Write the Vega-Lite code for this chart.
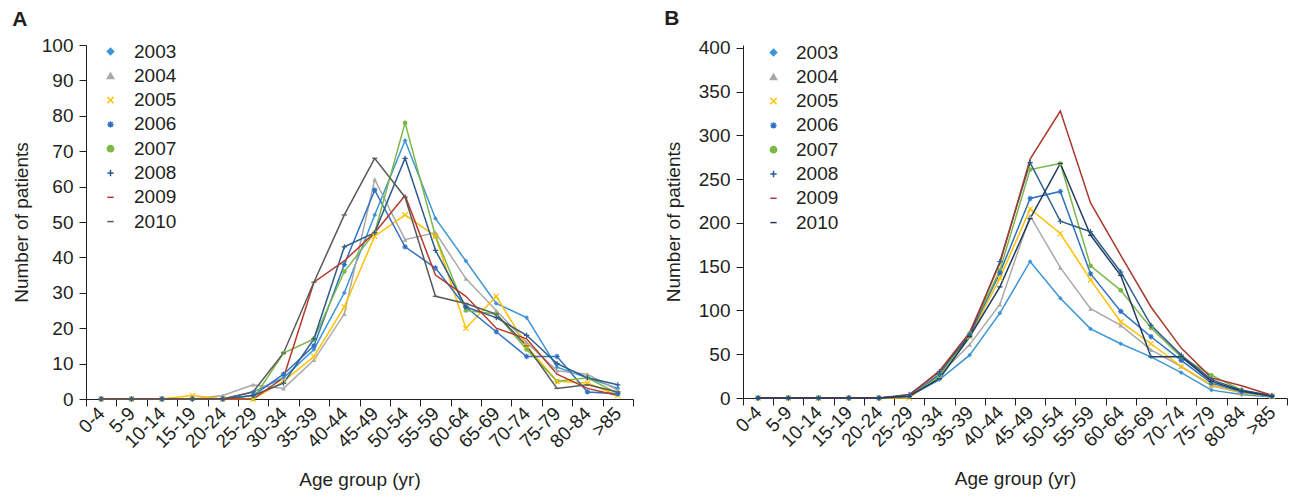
{
"$schema":"https://vega.github.io/schema/vega-lite/v6.json",
"padding":{"left":12,"top":8,"right":0,"bottom":0},
"config":{"view":{"stroke":null},"font":"Liberation Sans",
"axis":{"labelFont":"Liberation Sans","titleFont":"Liberation Sans","labelFontSize":19,"titleFontSize":19,"titleFontWeight":"normal","labelColor":"#231f20","titleColor":"#231f20","domainColor":"#231f20","tickColor":"#231f20","grid":false,"tickSize":7},
"title":{"font":"Liberation Sans","fontSize":21,"fontWeight":"bold","color":"#231f20","anchor":"start","frame":"bounds"},
"legend":{"labelFont":"Liberation Sans","labelFontSize":19,"labelColor":"#231f20","symbolStrokeWidth":1.5}},
"data":{"values":[
{"p":"A","yr":"2003","age":"0-4","n":0},{"p":"A","yr":"2003","age":"5-9","n":0},{"p":"A","yr":"2003","age":"10-14","n":0},{"p":"A","yr":"2003","age":"15-19","n":0},{"p":"A","yr":"2003","age":"20-24","n":0},{"p":"A","yr":"2003","age":"25-29","n":2},{"p":"A","yr":"2003","age":"30-34","n":6},{"p":"A","yr":"2003","age":"35-39","n":14},{"p":"A","yr":"2003","age":"40-44","n":30},{"p":"A","yr":"2003","age":"45-49","n":52},{"p":"A","yr":"2003","age":"50-54","n":73},{"p":"A","yr":"2003","age":"55-59","n":51},{"p":"A","yr":"2003","age":"60-64","n":39},{"p":"A","yr":"2003","age":"65-69","n":27},{"p":"A","yr":"2003","age":"70-74","n":23},{"p":"A","yr":"2003","age":"75-79","n":9},{"p":"A","yr":"2003","age":"80-84","n":6},{"p":"A","yr":"2003","age":">85","n":3},
{"p":"A","yr":"2004","age":"0-4","n":0},{"p":"A","yr":"2004","age":"5-9","n":0},{"p":"A","yr":"2004","age":"10-14","n":0},{"p":"A","yr":"2004","age":"15-19","n":0},{"p":"A","yr":"2004","age":"20-24","n":1},{"p":"A","yr":"2004","age":"25-29","n":4},{"p":"A","yr":"2004","age":"30-34","n":3},{"p":"A","yr":"2004","age":"35-39","n":11},{"p":"A","yr":"2004","age":"40-44","n":24},{"p":"A","yr":"2004","age":"45-49","n":62},{"p":"A","yr":"2004","age":"50-54","n":45},{"p":"A","yr":"2004","age":"55-59","n":47},{"p":"A","yr":"2004","age":"60-64","n":34},{"p":"A","yr":"2004","age":"65-69","n":25},{"p":"A","yr":"2004","age":"70-74","n":16},{"p":"A","yr":"2004","age":"75-79","n":8},{"p":"A","yr":"2004","age":"80-84","n":7},{"p":"A","yr":"2004","age":">85","n":2.5},
{"p":"A","yr":"2005","age":"0-4","n":0},{"p":"A","yr":"2005","age":"5-9","n":0},{"p":"A","yr":"2005","age":"10-14","n":0},{"p":"A","yr":"2005","age":"15-19","n":1},{"p":"A","yr":"2005","age":"20-24","n":0},{"p":"A","yr":"2005","age":"25-29","n":0},{"p":"A","yr":"2005","age":"30-34","n":5},{"p":"A","yr":"2005","age":"35-39","n":12},{"p":"A","yr":"2005","age":"40-44","n":26},{"p":"A","yr":"2005","age":"45-49","n":46},{"p":"A","yr":"2005","age":"50-54","n":52},{"p":"A","yr":"2005","age":"55-59","n":46},{"p":"A","yr":"2005","age":"60-64","n":20},{"p":"A","yr":"2005","age":"65-69","n":29},{"p":"A","yr":"2005","age":"70-74","n":15},{"p":"A","yr":"2005","age":"75-79","n":5},{"p":"A","yr":"2005","age":"80-84","n":4.5},{"p":"A","yr":"2005","age":">85","n":1},
{"p":"A","yr":"2006","age":"0-4","n":0},{"p":"A","yr":"2006","age":"5-9","n":0},{"p":"A","yr":"2006","age":"10-14","n":0},{"p":"A","yr":"2006","age":"15-19","n":0},{"p":"A","yr":"2006","age":"20-24","n":0},{"p":"A","yr":"2006","age":"25-29","n":1},{"p":"A","yr":"2006","age":"30-34","n":7},{"p":"A","yr":"2006","age":"35-39","n":15},{"p":"A","yr":"2006","age":"40-44","n":38},{"p":"A","yr":"2006","age":"45-49","n":59},{"p":"A","yr":"2006","age":"50-54","n":43},{"p":"A","yr":"2006","age":"55-59","n":37},{"p":"A","yr":"2006","age":"60-64","n":26},{"p":"A","yr":"2006","age":"65-69","n":19},{"p":"A","yr":"2006","age":"70-74","n":12},{"p":"A","yr":"2006","age":"75-79","n":12},{"p":"A","yr":"2006","age":"80-84","n":2},{"p":"A","yr":"2006","age":">85","n":1.5},
{"p":"A","yr":"2007","age":"0-4","n":0},{"p":"A","yr":"2007","age":"5-9","n":0},{"p":"A","yr":"2007","age":"10-14","n":0},{"p":"A","yr":"2007","age":"15-19","n":0},{"p":"A","yr":"2007","age":"20-24","n":0},{"p":"A","yr":"2007","age":"25-29","n":0},{"p":"A","yr":"2007","age":"30-34","n":13},{"p":"A","yr":"2007","age":"35-39","n":17},{"p":"A","yr":"2007","age":"40-44","n":36},{"p":"A","yr":"2007","age":"45-49","n":47},{"p":"A","yr":"2007","age":"50-54","n":78},{"p":"A","yr":"2007","age":"55-59","n":46},{"p":"A","yr":"2007","age":"60-64","n":25},{"p":"A","yr":"2007","age":"65-69","n":24},{"p":"A","yr":"2007","age":"70-74","n":14},{"p":"A","yr":"2007","age":"75-79","n":5},{"p":"A","yr":"2007","age":"80-84","n":6},{"p":"A","yr":"2007","age":">85","n":1.5},
{"p":"A","yr":"2008","age":"0-4","n":0},{"p":"A","yr":"2008","age":"5-9","n":0},{"p":"A","yr":"2008","age":"10-14","n":0},{"p":"A","yr":"2008","age":"15-19","n":0},{"p":"A","yr":"2008","age":"20-24","n":0},{"p":"A","yr":"2008","age":"25-29","n":1},{"p":"A","yr":"2008","age":"30-34","n":4.5},{"p":"A","yr":"2008","age":"35-39","n":17},{"p":"A","yr":"2008","age":"40-44","n":43},{"p":"A","yr":"2008","age":"45-49","n":47},{"p":"A","yr":"2008","age":"50-54","n":68},{"p":"A","yr":"2008","age":"55-59","n":42},{"p":"A","yr":"2008","age":"60-64","n":26},{"p":"A","yr":"2008","age":"65-69","n":23},{"p":"A","yr":"2008","age":"70-74","n":18},{"p":"A","yr":"2008","age":"75-79","n":10},{"p":"A","yr":"2008","age":"80-84","n":6},{"p":"A","yr":"2008","age":">85","n":4},
{"p":"A","yr":"2009","age":"0-4","n":0},{"p":"A","yr":"2009","age":"5-9","n":0},{"p":"A","yr":"2009","age":"10-14","n":0},{"p":"A","yr":"2009","age":"15-19","n":0},{"p":"A","yr":"2009","age":"20-24","n":0},{"p":"A","yr":"2009","age":"25-29","n":0},{"p":"A","yr":"2009","age":"30-34","n":6},{"p":"A","yr":"2009","age":"35-39","n":33},{"p":"A","yr":"2009","age":"40-44","n":39},{"p":"A","yr":"2009","age":"45-49","n":47},{"p":"A","yr":"2009","age":"50-54","n":57.5},{"p":"A","yr":"2009","age":"55-59","n":35},{"p":"A","yr":"2009","age":"60-64","n":29},{"p":"A","yr":"2009","age":"65-69","n":20},{"p":"A","yr":"2009","age":"70-74","n":17},{"p":"A","yr":"2009","age":"75-79","n":7},{"p":"A","yr":"2009","age":"80-84","n":3},{"p":"A","yr":"2009","age":">85","n":1},
{"p":"A","yr":"2010","age":"0-4","n":0},{"p":"A","yr":"2010","age":"5-9","n":0},{"p":"A","yr":"2010","age":"10-14","n":0},{"p":"A","yr":"2010","age":"15-19","n":0},{"p":"A","yr":"2010","age":"20-24","n":0},{"p":"A","yr":"2010","age":"25-29","n":2},{"p":"A","yr":"2010","age":"30-34","n":13},{"p":"A","yr":"2010","age":"35-39","n":33},{"p":"A","yr":"2010","age":"40-44","n":52},{"p":"A","yr":"2010","age":"45-49","n":68},{"p":"A","yr":"2010","age":"50-54","n":57},{"p":"A","yr":"2010","age":"55-59","n":29},{"p":"A","yr":"2010","age":"60-64","n":27},{"p":"A","yr":"2010","age":"65-69","n":24},{"p":"A","yr":"2010","age":"70-74","n":15},{"p":"A","yr":"2010","age":"75-79","n":3},{"p":"A","yr":"2010","age":"80-84","n":4},{"p":"A","yr":"2010","age":">85","n":2},
{"p":"B","yr":"2003","age":"0-4","n":0},{"p":"B","yr":"2003","age":"5-9","n":0},{"p":"B","yr":"2003","age":"10-14","n":0},{"p":"B","yr":"2003","age":"15-19","n":0},{"p":"B","yr":"2003","age":"20-24","n":0},{"p":"B","yr":"2003","age":"25-29","n":2},{"p":"B","yr":"2003","age":"30-34","n":21},{"p":"B","yr":"2003","age":"35-39","n":49},{"p":"B","yr":"2003","age":"40-44","n":97},{"p":"B","yr":"2003","age":"45-49","n":156},{"p":"B","yr":"2003","age":"50-54","n":114},{"p":"B","yr":"2003","age":"55-59","n":79},{"p":"B","yr":"2003","age":"60-64","n":62},{"p":"B","yr":"2003","age":"65-69","n":47},{"p":"B","yr":"2003","age":"70-74","n":29},{"p":"B","yr":"2003","age":"75-79","n":9},{"p":"B","yr":"2003","age":"80-84","n":4},{"p":"B","yr":"2003","age":">85","n":1},
{"p":"B","yr":"2004","age":"0-4","n":0},{"p":"B","yr":"2004","age":"5-9","n":0},{"p":"B","yr":"2004","age":"10-14","n":0},{"p":"B","yr":"2004","age":"15-19","n":0},{"p":"B","yr":"2004","age":"20-24","n":0},{"p":"B","yr":"2004","age":"25-29","n":2},{"p":"B","yr":"2004","age":"30-34","n":26},{"p":"B","yr":"2004","age":"35-39","n":61},{"p":"B","yr":"2004","age":"40-44","n":107},{"p":"B","yr":"2004","age":"45-49","n":208},{"p":"B","yr":"2004","age":"50-54","n":149},{"p":"B","yr":"2004","age":"55-59","n":102},{"p":"B","yr":"2004","age":"60-64","n":83},{"p":"B","yr":"2004","age":"65-69","n":55},{"p":"B","yr":"2004","age":"70-74","n":36},{"p":"B","yr":"2004","age":"75-79","n":14},{"p":"B","yr":"2004","age":"80-84","n":6},{"p":"B","yr":"2004","age":">85","n":2},
{"p":"B","yr":"2005","age":"0-4","n":0},{"p":"B","yr":"2005","age":"5-9","n":0},{"p":"B","yr":"2005","age":"10-14","n":0},{"p":"B","yr":"2005","age":"15-19","n":0},{"p":"B","yr":"2005","age":"20-24","n":0},{"p":"B","yr":"2005","age":"25-29","n":0},{"p":"B","yr":"2005","age":"30-34","n":28},{"p":"B","yr":"2005","age":"35-39","n":70},{"p":"B","yr":"2005","age":"40-44","n":137},{"p":"B","yr":"2005","age":"45-49","n":216},{"p":"B","yr":"2005","age":"50-54","n":188},{"p":"B","yr":"2005","age":"55-59","n":135},{"p":"B","yr":"2005","age":"60-64","n":87},{"p":"B","yr":"2005","age":"65-69","n":62},{"p":"B","yr":"2005","age":"70-74","n":36},{"p":"B","yr":"2005","age":"75-79","n":15},{"p":"B","yr":"2005","age":"80-84","n":6},{"p":"B","yr":"2005","age":">85","n":2},
{"p":"B","yr":"2006","age":"0-4","n":0},{"p":"B","yr":"2006","age":"5-9","n":0},{"p":"B","yr":"2006","age":"10-14","n":0},{"p":"B","yr":"2006","age":"15-19","n":0},{"p":"B","yr":"2006","age":"20-24","n":0},{"p":"B","yr":"2006","age":"25-29","n":2},{"p":"B","yr":"2006","age":"30-34","n":27},{"p":"B","yr":"2006","age":"35-39","n":72},{"p":"B","yr":"2006","age":"40-44","n":143},{"p":"B","yr":"2006","age":"45-49","n":228},{"p":"B","yr":"2006","age":"50-54","n":236},{"p":"B","yr":"2006","age":"55-59","n":142},{"p":"B","yr":"2006","age":"60-64","n":99},{"p":"B","yr":"2006","age":"65-69","n":70},{"p":"B","yr":"2006","age":"70-74","n":43},{"p":"B","yr":"2006","age":"75-79","n":17},{"p":"B","yr":"2006","age":"80-84","n":7},{"p":"B","yr":"2006","age":">85","n":2},
{"p":"B","yr":"2007","age":"0-4","n":0},{"p":"B","yr":"2007","age":"5-9","n":0},{"p":"B","yr":"2007","age":"10-14","n":0},{"p":"B","yr":"2007","age":"15-19","n":0},{"p":"B","yr":"2007","age":"20-24","n":0},{"p":"B","yr":"2007","age":"25-29","n":2},{"p":"B","yr":"2007","age":"30-34","n":24},{"p":"B","yr":"2007","age":"35-39","n":74},{"p":"B","yr":"2007","age":"40-44","n":146},{"p":"B","yr":"2007","age":"45-49","n":261},{"p":"B","yr":"2007","age":"50-54","n":268},{"p":"B","yr":"2007","age":"55-59","n":151},{"p":"B","yr":"2007","age":"60-64","n":123},{"p":"B","yr":"2007","age":"65-69","n":80},{"p":"B","yr":"2007","age":"70-74","n":47},{"p":"B","yr":"2007","age":"75-79","n":26},{"p":"B","yr":"2007","age":"80-84","n":9},{"p":"B","yr":"2007","age":">85","n":2},
{"p":"B","yr":"2008","age":"0-4","n":0},{"p":"B","yr":"2008","age":"5-9","n":0},{"p":"B","yr":"2008","age":"10-14","n":0},{"p":"B","yr":"2008","age":"15-19","n":0},{"p":"B","yr":"2008","age":"20-24","n":0},{"p":"B","yr":"2008","age":"25-29","n":4},{"p":"B","yr":"2008","age":"30-34","n":30},{"p":"B","yr":"2008","age":"35-39","n":72},{"p":"B","yr":"2008","age":"40-44","n":156},{"p":"B","yr":"2008","age":"45-49","n":269},{"p":"B","yr":"2008","age":"50-54","n":202},{"p":"B","yr":"2008","age":"55-59","n":190},{"p":"B","yr":"2008","age":"60-64","n":144},{"p":"B","yr":"2008","age":"65-69","n":83},{"p":"B","yr":"2008","age":"70-74","n":49},{"p":"B","yr":"2008","age":"75-79","n":21},{"p":"B","yr":"2008","age":"80-84","n":9},{"p":"B","yr":"2008","age":">85","n":3},
{"p":"B","yr":"2009","age":"0-4","n":0},{"p":"B","yr":"2009","age":"5-9","n":0},{"p":"B","yr":"2009","age":"10-14","n":0},{"p":"B","yr":"2009","age":"15-19","n":0},{"p":"B","yr":"2009","age":"20-24","n":0},{"p":"B","yr":"2009","age":"25-29","n":3},{"p":"B","yr":"2009","age":"30-34","n":31},{"p":"B","yr":"2009","age":"35-39","n":75},{"p":"B","yr":"2009","age":"40-44","n":154},{"p":"B","yr":"2009","age":"45-49","n":273},{"p":"B","yr":"2009","age":"50-54","n":328},{"p":"B","yr":"2009","age":"55-59","n":223},{"p":"B","yr":"2009","age":"60-64","n":163},{"p":"B","yr":"2009","age":"65-69","n":104},{"p":"B","yr":"2009","age":"70-74","n":57},{"p":"B","yr":"2009","age":"75-79","n":23},{"p":"B","yr":"2009","age":"80-84","n":14},{"p":"B","yr":"2009","age":">85","n":3},
{"p":"B","yr":"2010","age":"0-4","n":0},{"p":"B","yr":"2010","age":"5-9","n":0},{"p":"B","yr":"2010","age":"10-14","n":0},{"p":"B","yr":"2010","age":"15-19","n":0},{"p":"B","yr":"2010","age":"20-24","n":0},{"p":"B","yr":"2010","age":"25-29","n":2},{"p":"B","yr":"2010","age":"30-34","n":22},{"p":"B","yr":"2010","age":"35-39","n":70},{"p":"B","yr":"2010","age":"40-44","n":127},{"p":"B","yr":"2010","age":"45-49","n":205},{"p":"B","yr":"2010","age":"50-54","n":268},{"p":"B","yr":"2010","age":"55-59","n":186},{"p":"B","yr":"2010","age":"60-64","n":140},{"p":"B","yr":"2010","age":"65-69","n":47},{"p":"B","yr":"2010","age":"70-74","n":47},{"p":"B","yr":"2010","age":"75-79","n":19},{"p":"B","yr":"2010","age":"80-84","n":8},{"p":"B","yr":"2010","age":">85","n":2}
]},
"spacing":30,
"resolve":{"scale":{"color":"independent","shape":"independent"}},
"hconcat":[
{"title":{"text":"A","offset":6},
"width":547,"height":354,
"transform":[{"filter":"datum.p == 'A'"}],
"encoding":{
"x":{"field":"age","type":"ordinal","sort":["0-4","5-9","10-14","15-19","20-24","25-29","30-34","35-39","40-44","45-49","50-54","55-59","60-64","65-69","70-74","75-79","80-84",">85"],"scale":{"type":"band","paddingInner":0,"paddingOuter":0},"axis":{"title":"Age group (yr)","labelAngle":-45,"labelAlign":"right","labelBaseline":"middle","tickBand":"extent","labelPadding":4,"titlePadding":19}},
"y":{"field":"n","type":"quantitative","scale":{"domain":[0,100],"nice":false},"axis":{"title":"Number of patients","values":[0,10,20,30,40,50,60,70,80,90,100],"labelPadding":6,"titlePadding":10}},
"color":{"field":"yr","type":"nominal","scale":{"domain":["2003","2004","2005","2006","2007","2008","2009","2010"],"range":["#3d95d5","#a9a9a9","#ffc000","#2f72c2","#7cb848","#2f5c8a","#b8392a","#595959"]},
"legend":{"orient":"none","legendX":15,"legendY":-3,"title":null,"labelOffset":14,"rowPadding":4.3,"symbolSize":40,"padding":0}}
},
"layer":[
{"mark":{"type":"line","strokeWidth":1.5}},
{"transform":[{"filter":"indexof(['2003','2004','2007'], datum.yr) >= 0"}],
"mark":{"type":"point","filled":true,"size":22,"opacity":1},
"encoding":{"shape":{"field":"yr","type":"nominal","legend":null,"scale":{"domain":["2003","2004","2005","2006","2007","2008","2009","2010"],"range":["diamond","triangle-up","M-1,-1L1,1M-1,1L1,-1","M-1,0L1,0M0,-1L0,1M-0.7,-0.7L0.7,0.7M-0.7,0.7L0.7,-0.7","circle","M-1,0L1,0M0,-1L0,1","stroke","stroke"]}}}},
{"transform":[{"filter":"indexof(['2005','2006','2008','2010'], datum.yr) >= 0"}],
"mark":{"type":"point","filled":false,"size":28,"strokeWidth":1.2,"opacity":1},
"encoding":{"shape":{"field":"yr","type":"nominal","legend":null,"scale":{"domain":["2003","2004","2005","2006","2007","2008","2009","2010"],"range":["diamond","triangle-up","M-1,-1L1,1M-1,1L1,-1","M-1,0L1,0M0,-1L0,1M-0.7,-0.7L0.7,0.7M-0.7,0.7L0.7,-0.7","circle","M-1,0L1,0M0,-1L0,1","stroke","stroke"]}}}}
]},
{"title":{"text":"B","offset":6},
"width":544,"height":353,
"transform":[{"filter":"datum.p == 'B'"}],
"encoding":{
"x":{"field":"age","type":"ordinal","sort":["0-4","5-9","10-14","15-19","20-24","25-29","30-34","35-39","40-44","45-49","50-54","55-59","60-64","65-69","70-74","75-79","80-84",">85"],"scale":{"type":"band","paddingInner":0,"paddingOuter":0},"axis":{"title":"Age group (yr)","labelAngle":-45,"labelAlign":"right","labelBaseline":"middle","tickBand":"extent","labelPadding":4,"titlePadding":19}},
"y":{"field":"n","type":"quantitative","scale":{"domain":[0,403.4],"nice":false},"axis":{"title":"Number of patients","values":[0,50,100,150,200,250,300,350,400],"labelPadding":6,"titlePadding":15}},
"color":{"field":"yr","type":"nominal","scale":{"domain":["2003","2004","2005","2006","2007","2008","2009","2010"],"range":["#3d95d5","#a9a9a9","#ffc000","#2f72c2","#7cb848","#2f5c8a","#a8392a","#1f3b5e"]},
"legend":{"orient":"none","legendX":13,"legendY":-10,"title":null,"labelOffset":13,"rowPadding":4.3,"symbolSize":40,"padding":8}}
},
"layer":[
{"mark":{"type":"line","strokeWidth":1.5}},
{"transform":[{"filter":"indexof(['2003','2004','2007'], datum.yr) >= 0"}],
"mark":{"type":"point","filled":true,"size":22,"opacity":1},
"encoding":{"shape":{"field":"yr","type":"nominal","legend":null,"scale":{"domain":["2003","2004","2005","2006","2007","2008","2009","2010"],"range":["diamond","triangle-up","M-1,-1L1,1M-1,1L1,-1","M-1,0L1,0M0,-1L0,1M-0.7,-0.7L0.7,0.7M-0.7,0.7L0.7,-0.7","circle","M-1,0L1,0M0,-1L0,1","stroke","stroke"]}}}},
{"transform":[{"filter":"indexof(['2005','2006','2008','2010'], datum.yr) >= 0"}],
"mark":{"type":"point","filled":false,"size":28,"strokeWidth":1.2,"opacity":1},
"encoding":{"shape":{"field":"yr","type":"nominal","legend":null,"scale":{"domain":["2003","2004","2005","2006","2007","2008","2009","2010"],"range":["diamond","triangle-up","M-1,-1L1,1M-1,1L1,-1","M-1,0L1,0M0,-1L0,1M-0.7,-0.7L0.7,0.7M-0.7,0.7L0.7,-0.7","circle","M-1,0L1,0M0,-1L0,1","stroke","stroke"]}}}}
]}
]
}
